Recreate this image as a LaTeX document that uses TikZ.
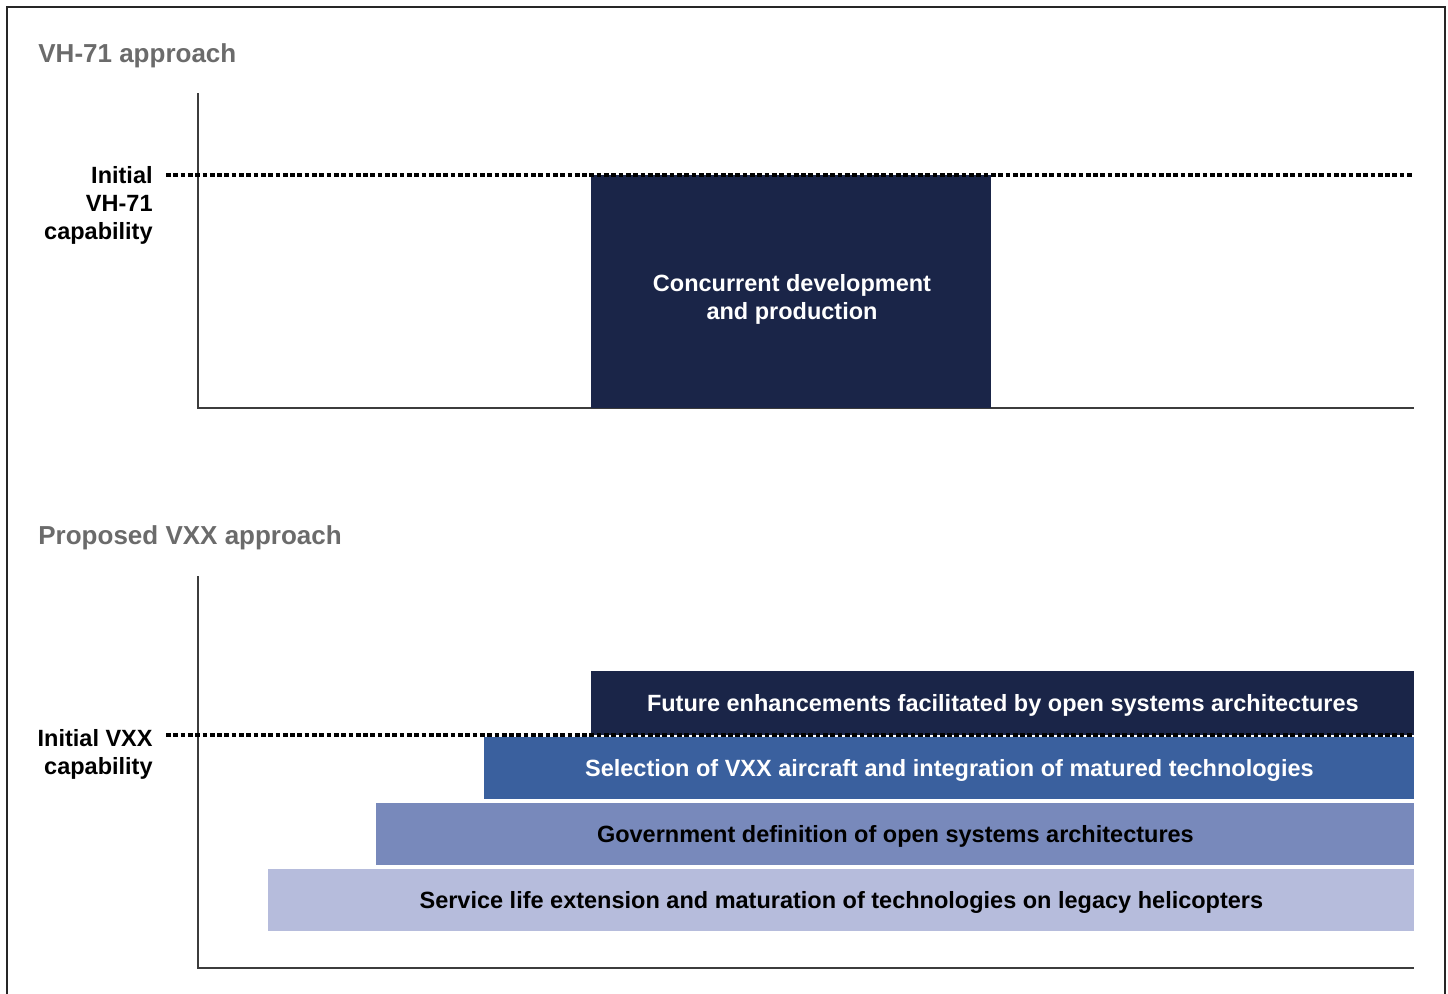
\documentclass[tikz,border=0pt]{standalone}
\usepackage{fontspec}
\setmainfont{Liberation Sans}
\definecolor{navy}{HTML}{1A2548}
\definecolor{midblue}{HTML}{3A609E}
\definecolor{slateblue}{HTML}{7889BB}
\definecolor{paleblue}{HTML}{B6BCDC}
\definecolor{titlegray}{HTML}{6B6B6B}
\definecolor{axisgray}{HTML}{3C3C3C}
\tikzset{
  frame/.style={draw=black!85, line width=0.8pt},
  axisline/.style={draw=axisgray, line width=1pt},
  capline/.style={draw=black, line width=2.2pt, dash pattern=on 2.35pt off 1.3pt},
  title/.style={font=\bfseries\fontsize{13}{15}\selectfont, text=titlegray, inner sep=0pt},
  caplabel/.style={font=\bfseries\fontsize{11.75}{14}\selectfont, text=black, align=right, inner sep=0pt},
  barbox/.style={draw=none, inner sep=0pt, anchor=north west, align=center, text depth=0pt,
     font=\bfseries\fontsize{11.75}{14}\selectfont},
}
\begin{document}
\begin{tikzpicture}[x=0.5pt, y=-0.5pt]
\useasboundingbox (0,0) rectangle (1448,993);
\fill[white] (0,0) rectangle (1448,993);
% frame
\coordinate (f1) at (7,995);
\coordinate (f2) at (7,7);
\coordinate (f3) at (1445,7);
\coordinate (f4) at (1445,995);
\draw[frame] (f1) -- (f2) -- (f3) -- (f4);

% ---------- top panel ----------
\node[title, anchor=base west] (t1) at (38,62) {VH-71 approach};
\coordinate (a1top) at (198,93);
\coordinate (a1o) at (198,408);
\coordinate (a1end) at (1414,408);
\draw[axisline] (a1top) -- (a1o) -- (a1end);

\node[barbox, fill=navy, text=white, minimum width=200pt, minimum height=116.5pt] (cdp) at (591,175) {};
\node[font=\bfseries\fontsize{11.75}{14}\selectfont, text=white, align=center, inner sep=0pt] (cdptext) at (792,299) {Concurrent development\\and production};

\coordinate (d1s) at (166,175);
\coordinate (d1e) at (1414,175);
\draw[capline] (d1s) -- (d1e);
\node[caplabel, anchor=north east] (l1) at (153,166) {Initial\\VH-71\\capability};

% ---------- bottom panel ----------
\node[title, anchor=base west] (t2) at (38,544) {Proposed VXX approach};
\coordinate (a2top) at (198,576);
\coordinate (a2o) at (198,968);
\coordinate (a2end) at (1414,968);
\draw[axisline] (a2top) -- (a2o) -- (a2end);

\node[barbox, fill=navy, text=white, minimum width=411.5pt, minimum height=32pt] (b1) at (591,671) {Future enhancements facilitated by open systems architectures};
\node[barbox, fill=midblue, text=white, minimum width=465pt, minimum height=31pt] (b2) at (484,737) {Selection of VXX aircraft and integration of matured technologies};
\node[barbox, fill=slateblue, text=black, minimum width=519pt, minimum height=31pt] (b3) at (376,803) {Government definition of open systems architectures};
\node[barbox, fill=paleblue, text=black, minimum width=573pt, minimum height=31pt] (b4) at (268,869) {Service life extension and maturation of technologies on legacy helicopters};

\coordinate (d2s) at (166,735);
\coordinate (d2e) at (1414,735);
\draw[capline] (d2s) -- (d2e);
\node[caplabel, anchor=north east] (l2) at (153,729) {Initial VXX\\capability};
\end{tikzpicture}
\end{document}
